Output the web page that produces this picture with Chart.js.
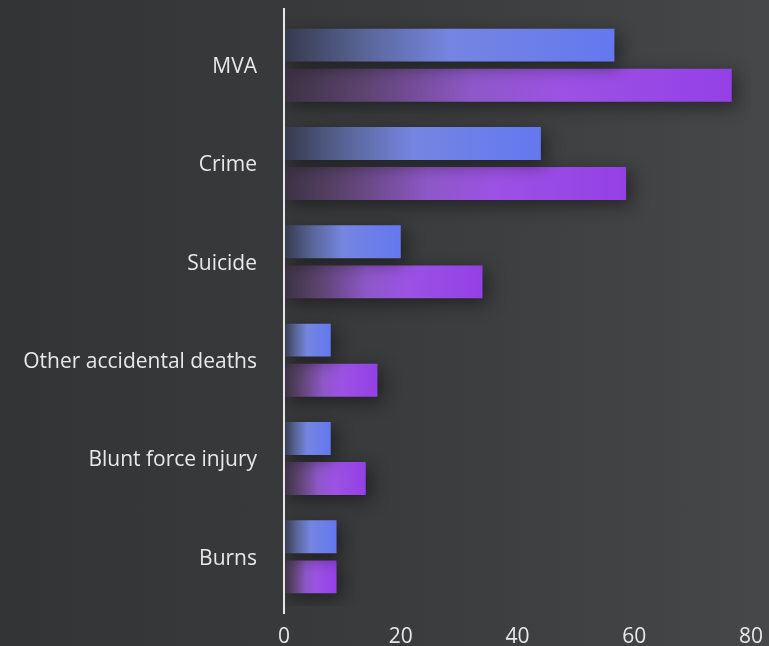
<!DOCTYPE html>
<html>
<head>
<meta charset="utf-8">
<script src="https://cdn.jsdelivr.net/npm/chart.js@4.4.1/dist/chart.umd.min.js"></script>
<style>
    html, body {
        margin: 0;
        padding: 0;
    }
    body {
        width: 769px;
        height: 646px;
        overflow: hidden;
        background: linear-gradient(to right, #333435 0%, #3a3b3d 50%, #464749 100%);
    }
    #chartWrap {
        position: relative;
        width: 769px;
        height: 646px;
    }
</style>
</head>
<body>
<div id="chartWrap">
    <canvas id="causesChart"></canvas>
</div>
<script>
const categories = ["MVA", "Crime", "Suicide", "Other accidental deaths", "Blunt force injury", "Burns"];
const seriesA = [56.6, 44, 20, 8, 8, 9];
const seriesB = [76.7, 58.6, 34, 16, 14, 9];
const xTicks = [0, 20, 40, 60, 80];

const blueStops = [
    [0, "#353a4c"],
    [0.25, "#5a6699"],
    [0.5, "#7585e0"],
    [1, "#6478f0"],
];
const purpleStops = [
    [0, "#3b3242"],
    [0.18, "#5d4470"],
    [0.42, "#8e58c8"],
    [0.62, "#9c52e4"],
    [1, "#9440e6"],
];

function barGradient(stops, fallback) {
    return (context) => {
        const chart = context.chart;
        const { chartArea, scales } = chart;
        if (!chartArea || !scales.x) return fallback;
        const x0 = scales.x.getPixelForValue(0);
        const x1 = scales.x.getPixelForValue(context.raw);
        const g = chart.ctx.createLinearGradient(x0, 0, x1, 0);
        stops.forEach(([pos, color]) => g.addColorStop(pos, color));
        return g;
    };
}

const shadowPlugin = {
    id: "barShadow",
    beforeDatasetsDraw(chart) {
        const ctx = chart.ctx;
        ctx.save();
        ctx.shadowColor = "rgba(0, 0, 0, 0.45)";
        ctx.shadowBlur = 18;
        ctx.shadowOffsetX = 5;
        ctx.shadowOffsetY = 5;
    },
    afterDatasetsDraw(chart) {
        chart.ctx.restore();
    },
};

const axisLinePlugin = {
    id: "axisLine",
    afterDatasetsDraw(chart) {
        const { ctx, chartArea } = chart;
        const x = chart.scales.x.getPixelForValue(0);
        ctx.save();
        ctx.strokeStyle = "#e6e6e6";
        ctx.lineWidth = 2;
        ctx.beginPath();
        ctx.moveTo(x, chartArea.top - 8);
        ctx.lineTo(x, chartArea.bottom + 8);
        ctx.stroke();
        ctx.restore();
    },
};

new Chart(document.getElementById("causesChart"), {
    type: "bar",
    data: {
        labels: categories,
        datasets: [
            {
                data: seriesA,
                backgroundColor: barGradient(blueStops, "#6a7ce8"),
                borderWidth: 0,
            },
            {
                data: seriesB,
                backgroundColor: barGradient(purpleStops, "#9448e6"),
                borderWidth: 0,
            },
        ],
    },
    options: {
        indexAxis: "y",
        responsive: true,
        maintainAspectRatio: false,
        animation: false,
        categoryPercentage: 0.815,
        barPercentage: 0.82,
        layout: {
            padding: { top: 16, right: 18, bottom: 0, left: 0 },
        },
        plugins: {
            legend: { display: false },
            tooltip: { enabled: false },
        },
        scales: {
            x: {
                min: 0,
                max: 80,
                afterBuildTicks: (scale) => {
                    scale.ticks = xTicks.map((v) => ({ value: v }));
                },
                afterFit: (scale) => {
                    scale.height = 40;
                    scale.paddingLeft = 0;
                    scale.paddingRight = 0;
                },
                grid: { display: false },
                border: { display: false },
                ticks: {
                    color: "#e8e8e8",
                    padding: 10,
                    font: { family: "'Open Sans'", size: 21 },
                },
            },
            y: {
                afterFit: (scale) => {
                    scale.width = 284;
                    scale.paddingTop = 0;
                    scale.paddingBottom = 0;
                },
                grid: { display: false, drawTicks: false },
                border: { display: false },
                ticks: {
                    color: "#e8e8e8",
                    padding: 27,
                    labelOffset: 2,
                    font: { family: "'Open Sans'", size: 21 },
                },
            },
        },
    },
    plugins: [shadowPlugin, axisLinePlugin],
});
</script>
</body>
</html>
